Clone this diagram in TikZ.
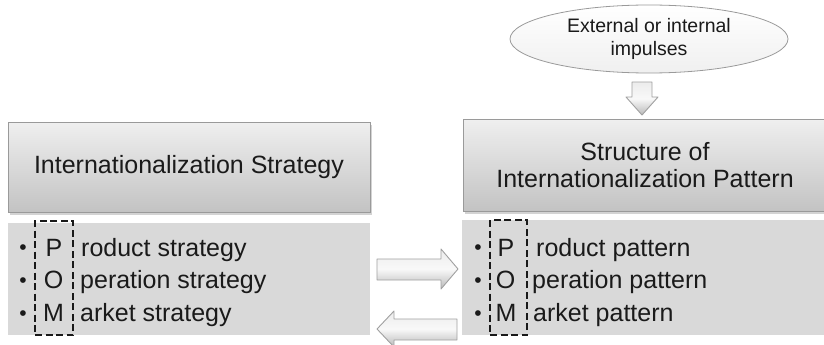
\documentclass[tikz,border=0pt]{standalone}
\usepackage{fontspec}
\setmainfont{Liberation Sans}
\usetikzlibrary{shapes.geometric,shadows}
\definecolor{panelgray}{HTML}{D9D9D9}
\definecolor{boxtop}{HTML}{EFEFEF}
\definecolor{boxbot}{HTML}{C3C3C3}
\definecolor{boxline}{HTML}{9A9A9A}
\definecolor{txt}{HTML}{1A1A1A}
\definecolor{arrline}{HTML}{A0A0A0}
\tikzset{
  headbox/.style={draw=boxline, line width=0.8pt, top color=boxtop, bottom color=boxbot,
    drop shadow={shadow xshift=1.5pt, shadow yshift=-2.5pt, opacity=0.35},
    inner sep=0pt, align=center, text=txt, font=\fontsize{25}{27}\selectfont},
  panelbox/.style={fill=panelgray, inner sep=0pt},
  pombox/.style={draw=black!90, line width=2.8pt, dash pattern=on 7pt off 3.5pt, inner sep=0pt},
  itemtxt/.style={anchor=base west, inner sep=0pt, text=txt, font=\fontsize{25}{27}\selectfont},
  lettertxt/.style={anchor=base, inner sep=0pt, text=txt, font=\fontsize{25}{27}\selectfont},
  bullettxt/.style={anchor=base, inner sep=0pt, text=txt, font=\fontsize{21}{23}\selectfont},
  blockarrow/.style={draw=arrline, line width=0.9pt, top color=white!85!gray, bottom color=gray!55, middle color=white!95!gray, line join=round},
}
\begin{document}
\begin{tikzpicture}[x=1pt,y=-1pt]
\useasboundingbox (0,0) rectangle (824,345);

% impulses ellipse
\node[ellipse, draw=boxline, line width=0.8pt, top color=white, bottom color=gray!12,
      minimum width=278pt, minimum height=68pt, inner sep=0pt, align=center, text=txt,
      font=\fontsize{19.5}{22.5}\selectfont] (imp) at (649,39) {External or internal\\impulses};

% header boxes
\node[headbox, minimum width=362pt, minimum height=90pt] (strat) at (189,167) {Internationalization Strategy};
\node[headbox, minimum width=364pt, minimum height=92pt] (patt) at (645,165) {Structure of\\Internationalization Pattern};

% lower panels
\node[panelbox, minimum width=362pt, minimum height=112pt] (lpan) at (189,279) {};
\node[panelbox, minimum width=364pt, minimum height=115pt] (rpan) at (644,277.5) {};

% dashed POM boxes
\node[pombox, minimum width=38pt, minimum height=114pt] (lpom) at (54,278) {};
\node[pombox, minimum width=37pt, minimum height=115pt] (rpom) at (508.5,277.5) {};

% left items
\node[bullettxt] (lb1) at (23,254.5) {•};
\node[bullettxt] (lb2) at (23,287.5) {•};
\node[bullettxt] (lb3) at (23,320) {•};
\node[lettertxt] (lP) at (54,256) {P};
\node[lettertxt] (lO) at (53.5,288.5) {O};
\node[lettertxt] (lM) at (53.5,321) {M};
\node[itemtxt] (lt1) at (81,256) {roduct strategy};
\node[itemtxt] (lt2) at (80,288.5) {peration strategy};
\node[itemtxt] (lt3) at (80,321) {arket strategy};

% right items
\node[bullettxt] (rb1) at (478,254.5) {•};
\node[bullettxt] (rb2) at (478,287.5) {•};
\node[bullettxt] (rb3) at (478,320) {•};
\node[lettertxt] (rP) at (506,256) {P};
\node[lettertxt] (rO) at (505.5,288.5) {O};
\node[lettertxt] (rM) at (506,321) {M};
\node[itemtxt] (rt1) at (536,256) {roduct pattern};
\node[itemtxt] (rt2) at (532,288.5) {peration pattern};
\node[itemtxt] (rt3) at (533,321) {arket pattern};

% down block arrow (impulses -> structure)
\draw[blockarrow] (632,82) -- (652,82) -- (652,97) -- (658,97) -- (642,115) -- (626,97) -- (632,97) -- cycle;

% right block arrow (strategy -> pattern)
\draw[blockarrow] (377,259) -- (441,259) -- (441,249) -- (458,269) -- (441,289) -- (441,280) -- (377,280) -- cycle;

% left block arrow (pattern -> strategy)
\draw[blockarrow] (457,319) -- (394,319) -- (394,311) -- (377,329) -- (394,347) -- (394,340) -- (457,340) -- cycle;
\end{tikzpicture}
\end{document}
